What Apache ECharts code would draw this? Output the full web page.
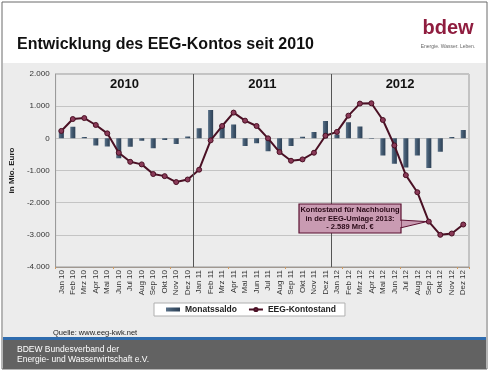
<!DOCTYPE html>
<html><head><meta charset="utf-8">
<script src="https://cdn.jsdelivr.net/npm/echarts@6/dist/echarts.min.js"></script>
<style>html,body{margin:0;padding:0;background:#fff}#c{width:492px;height:371px}</style>
</head><body><div id="c"></div>
<script>
const categories = ["Jan 10","Feb 10","Mrz 10","Apr 10","Mai 10","Jun 10","Jul 10","Aug 10","Sep 10","Okt 10","Nov 10","Dez 10",
  "Jan 11","Feb 11","Mrz 11","Apr 11","Mai 11","Jun 11","Jul 11","Aug 11","Sep 11","Okt 11","Nov 11","Dez 11",
  "Jan 12","Feb 12","Mrz 12","Apr 12","Mai 12","Jun 12","Jul 12","Aug 12","Sep 12","Okt 12","Nov 12","Dez 12"];
const monatssaldo = [240,360,40,-220,-250,-620,-260,-75,-310,-50,-180,60,
  310,880,400,430,-240,-155,-400,-430,-240,50,200,540,
  120,500,370,-10,-530,-790,-905,-530,-925,-417,40,260];
const kontostand = [230,600,630,415,155,-450,-730,-810,-1110,-1175,-1360,-1280,
  -975,-63,383,800,550,383,0,-427,-697,-655,-448,80,
  200,705,1080,1090,570,-220,-1145,-1675,-2589,-3000,-2960,-2680];
const years = ["2010","2011","2012"];
const yMin = -4000, yMax = 2000, yStep = 1000;
const calloutLines = ["Kontostand für Nachholung","in der EEG-Umlage 2013:","- 2.589 Mrd. €"];
const calloutIndex = 32;

function fmt(v){
  const s = Math.abs(v).toString().replace(/\B(?=(\d{3})+(?!\d))/g,'.');
  return (v<0?'-':'') + s;
}
const FONT = 'Liberation Sans, Arial, sans-serif';
const chart = echarts.init(document.getElementById('c'), null, {renderer:'canvas'});
const option = {
  backgroundColor:'#fff',
  animation:false,
  textStyle:{fontFamily:FONT},
  grid:{left:54,right:23,top:74,bottom:104,show:true,borderColor:'#9a9a9a',borderWidth:1,backgroundColor:'transparent'},
  legend:{
    left:154, top:303, orient:'horizontal',
    backgroundColor:'#fff', borderColor:'#b0b0b0', borderWidth:1,
    padding:[2,9,2,12], itemGap:11, itemWidth:14, itemHeight:4,
    textStyle:{fontFamily:FONT,fontSize:8.5,fontWeight:'bold',color:'#222'},
    data:[{name:'Monatssaldo',icon:'rect'},{name:'EEG-Kontostand'}]
  },
  xAxis:[{
    type:'category', data:categories,
    axisLine:{show:false}, axisTick:{show:false},
    axisLabel:{interval:0, rotate:90, fontSize:8, color:'#333', margin:3, fontFamily:FONT},
    splitLine:{show:false}
  },{
    type:'category', data:categories, position:'bottom',
    axisLine:{show:true, onZero:true, lineStyle:{color:'#a09890',width:1}},
    axisTick:{show:true, length:2, lineStyle:{color:'#d09a60'}},
    axisLabel:{show:false}
  }],
  yAxis:{
    type:'value', min:yMin, max:yMax, interval:yStep,
    name:'in Mio. Euro', nameLocation:'middle', nameGap:30, nameRotate:90,
    nameTextStyle:{fontSize:8, fontWeight:'bold', color:'#222', fontFamily:FONT},
    axisLine:{show:true, lineStyle:{color:'#9a9a9a'}}, axisTick:{show:false},
    axisLabel:{formatter:fmt, fontSize:8, color:'#333', margin:6, fontFamily:FONT},
    splitLine:{lineStyle:{color:'#c4c4c4',width:1}}
  },
  series:[{
    name:'Monatssaldo', type:'bar', data:monatssaldo, barWidth:'44%',
    itemStyle:{color:{type:'linear',x:0,y:0,x2:1,y2:0,colorStops:[{offset:0,color:'#5a7188'},{offset:0.5,color:'#3e556c'},{offset:1,color:'#2d4055'}]}}
  },{
    name:'EEG-Kontostand', type:'line', data:kontostand, z:5,
    symbol:'circle', symbolSize:5,
    lineStyle:{color:'#4a1024',width:2},
    itemStyle:{color:'#8a3a58',borderColor:'#4a1024',borderWidth:1}
  }]
};
chart.setOption(option);

function overlay(){
  const g = [];
  g.push({type:'rect',z:-10,shape:{x:2,y:2,width:485,height:367},style:{fill:'#fff',stroke:'#6a6a6a',lineWidth:1}});
  g.push({type:'rect',z:-9,shape:{x:3,y:63,width:483,height:275},style:{fill:'#ececec'}});
  g.push({type:'rect',z:-9,shape:{x:3,y:337,width:483,height:3},style:{fill:'#2f6cae'}});
  g.push({type:'rect',z:-9,shape:{x:3,y:340,width:483,height:29},style:{fill:'#626262'}});
  g.push({type:'text',z:10,style:{x:17,y:45,text:'Entwicklung des EEG-Kontos seit 2010',font:'bold 16px '+FONT,fill:'#111',textVerticalAlign:'middle'}});
  g.push({type:'text',z:10,style:{x:448,y:28,text:'bdew',font:'bold 20px '+FONT,fill:'#8f1d3f',textAlign:'center',textVerticalAlign:'middle'}});
  g.push({type:'text',z:10,style:{x:448,y:47,text:'Energie. Wasser. Leben.',font:'5px '+FONT,fill:'#666',textAlign:'center',textVerticalAlign:'middle'}});
  g.push({type:'text',z:10,style:{x:53,y:333,text:'Quelle: www.eeg-kwk.net',font:'7.5px '+FONT,fill:'#222',textVerticalAlign:'middle'}});
  g.push({type:'text',z:10,style:{x:17,y:350,text:'BDEW Bundesverband der',font:'8.5px '+FONT,fill:'#fff',textVerticalAlign:'middle'}});
  g.push({type:'text',z:10,style:{x:17,y:360,text:'Energie- und Wasserwirtschaft e.V.',font:'8.5px '+FONT,fill:'#fff',textVerticalAlign:'middle'}});

  const top = chart.convertToPixel({yAxisIndex:0}, yMax);
  const bot = chart.convertToPixel({yAxisIndex:0}, yMin);
  const xc = i => chart.convertToPixel({xAxisIndex:0}, categories[i]);
  const step = xc(1) - xc(0);
  years.forEach((y,k)=>{
    const x0 = xc(k*12) - step/2, x1 = xc(k*12+11) + step/2;
    if(k>0) g.push({type:'line',z:6,shape:{x1:Math.round(x0)+0.5,y1:top,x2:Math.round(x0)+0.5,y2:bot},style:{stroke:'#555',lineWidth:1}});
    g.push({type:'text',z:6,style:{x:(x0+x1)/2,y:top+10,text:y,font:'bold 13px '+FONT,fill:'#111',textAlign:'center',textVerticalAlign:'middle'}});
  });

  const tip = chart.convertToPixel({seriesIndex:1}, [calloutIndex, kontostand[calloutIndex]]);
  const bx = 299, by = 204, bw = 102, bh = 29;
  g.push({type:'polygon',z:7,shape:{points:[[bx+bw-1,by+16],[tip[0]-2,tip[1]],[bx+bw-1,by+24]]},style:{fill:'#c99bb2',stroke:'#5a1030',lineWidth:1}});
  g.push({type:'rect',z:7,shape:{x:bx,y:by,width:bw,height:bh},style:{fill:'#c99bb2',stroke:'#5a1030',lineWidth:1.2}});
  g.push({type:'rect',z:7,shape:{x:bx+bw-2,y:by+17,width:2,height:6},style:{fill:'#c99bb2'}});
  calloutLines.forEach((t,i)=>{
    g.push({type:'text',z:8,style:{x:bx+bw/2,y:by+6+i*8.5,text:t,font:'bold 7.5px '+FONT,fill:'#2a0a18',textAlign:'center',textVerticalAlign:'middle'}});
  });
  chart.setOption({graphic:{elements:g}});
}
overlay();
</script></body></html>
